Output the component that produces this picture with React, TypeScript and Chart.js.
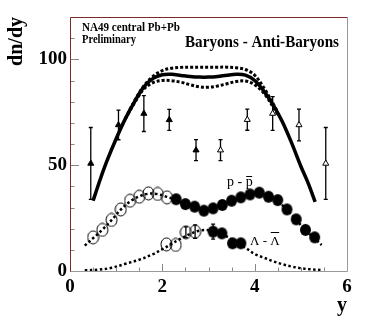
import React, { useEffect, useRef } from "react";
import { Chart, registerables } from "chart.js";

Chart.register(...registerables);

// ---------- data ----------
const xTickLabels = ["0", "2", "4", "6"];
const yTickLabels = ["0", "50", "100"];
const xMajorTicks = [0, 2, 4, 6];
const xMinorTicks = [0.5, 1, 1.5, 2.5, 3, 3.5, 4.5, 5, 5.5];
const yMajorTicks = [0, 50, 100];
const yMinorTicks = [10, 20, 30, 40, 60, 70, 80, 90, 110];

// Baryons - Anti-Baryons : measured (triangles)
const triFilledX = [0.45, 1.05, 1.6, 2.15, 2.73];
const triFilledY = [50.8, 69.0, 74.4, 71.4, 57.1];
const triFilledErr = [17, 7, 8.5, 5, 5];
const triOpenX = [3.26, 3.84, 4.39, 4.96, 5.54];
const triOpenY = [57.1, 71.5, 74.4, 69.0, 50.8];
const triOpenErr = [5, 5, 8, 7.5, 17];

// model curves
const bbX = [0.5, 0.65, 0.8, 1.0, 1.2, 1.4, 1.6, 1.8, 2.0, 2.2, 2.4, 2.6, 2.8, 3.0, 3.2, 3.4, 3.6, 3.8, 4.0, 4.2, 4.4, 4.6, 4.8, 5.0, 5.15, 5.31];
const bbY = [33.2, 43, 52, 62.5, 72, 80, 87, 91, 92.7, 92.9, 92.4, 91.9, 91.6, 91.6, 91.9, 92.5, 92.9, 92.5, 90, 85, 78.5, 70.5, 60.5, 49.5, 42, 32.7];
const bbBandX = [1.2, 1.4, 1.6, 1.8, 2.0, 2.2, 2.4, 2.6, 2.8, 3.0, 3.2, 3.4, 3.6, 3.8, 4.0, 4.2, 4.4, 4.5];
const bbUpperY = [72, 80.5, 87.5, 92, 94.7, 95.8, 96.2, 96.3, 96.3, 96.3, 96.3, 96.3, 96.0, 95.2, 92.5, 86.5, 79, 75];
const bbLowerY = [72, 79.5, 86, 89, 90, 89.9, 89.2, 88, 87, 86.8, 87.4, 88.5, 89.5, 89.8, 88, 84, 77.5, 74];

// p - pbar
const ppOpenX = [0.5, 0.7, 0.9, 1.1, 1.3, 1.5, 1.7, 1.9, 2.1];
const ppOpenY = [15.9, 19.4, 24.1, 29.1, 33.2, 35.1, 36.7, 36.4, 34.8];
const ppFilledX = [2.3, 2.5, 2.7, 2.9, 3.1, 3.3, 3.5, 3.7, 3.9, 4.1, 4.3, 4.5, 4.7, 4.9, 5.1, 5.3];
const ppFilledY = [33.9, 31.6, 30.4, 28.5, 29.6, 31.2, 33.2, 34.8, 36.2, 37.0, 35.1, 33.5, 29.1, 24.4, 19.4, 15.9];
const ppFitX = [0.32, 0.5, 0.7, 0.9, 1.1, 1.3, 1.5, 1.7, 1.9, 2.1, 2.3, 2.5, 2.7, 2.9, 3.1, 3.3, 3.5, 3.7, 3.9, 4.1, 4.3, 4.5, 4.7, 4.9, 5.1, 5.3, 5.45];
const ppFitY = [12, 15.5, 19.5, 24, 29, 32.8, 35.3, 36.5, 36.3, 35, 33.5, 31.5, 30, 29.2, 29.8, 31.2, 33, 34.9, 36.3, 36.6, 35.3, 32.8, 29, 24.2, 19.3, 15.3, 12.3];

// Lambda - Lambdabar
const lamOpenX = [2.09, 2.29, 2.51, 2.71];
const lamOpenY = [12.6, 12.3, 18.3, 18.6];
const lamOpenErr = [0, 0, 2.5, 3.2];
const lamFilledX = [3.1, 3.29, 3.52, 3.7];
const lamFilledY = [18.6, 17.8, 13.1, 13.1];
const lamFilledErr = [3.5, 0, 0, 0];
const lamFitX = [0.32, 0.6, 0.9, 1.2, 1.5, 1.8, 2.0, 2.2, 2.4, 2.6, 2.8, 3.0, 3.2, 3.4, 3.6, 3.8, 4.0, 4.2, 4.4, 4.6, 4.8, 5.0, 5.2, 5.48];
const lamFitY = [0.3, 0.6, 1.5, 3.4, 5.3, 8.0, 10.3, 12.8, 15.3, 17.5, 19.0, 19.3, 18.3, 16.2, 13.5, 11.0, 8.0, 6.3, 4.6, 3.2, 2.1, 1.3, 0.8, 0.4];

// texts
const yTitle = "dn/dy";
const xTitle = "y";
const expText = "NA49 central Pb+Pb";
const prelimText = "Preliminary";
const headText = "Baryons - Anti-Baryons";
const ppLabelHead = "p - ";
const ppLabelBar = "p"; // drawn with an overbar (anti-proton)
const lamLabelHead = "\u039B - ";
const lamLabelBar = "\u039B"; // drawn with an overbar (anti-lambda)

const SERIF = "'Liberation Serif', 'Times New Roman', serif";

const pts = (xs: number[], ys: number[]) => xs.map((x, i) => ({ x, y: ys[i] }));

function makeEllipse(w: number, h: number, filled: boolean) {
  const c = document.createElement("canvas");
  c.width = w + 2;
  c.height = h + 2;
  const g = c.getContext("2d")!;
  g.beginPath();
  g.ellipse(c.width / 2, c.height / 2, w / 2, h / 2, 0, 0, Math.PI * 2);
  if (filled) {
    g.fillStyle = "#000";
    g.fill();
  } else {
    g.strokeStyle = "#000";
    g.lineWidth = 1;
    g.stroke();
  }
  return c;
}

const errorSets = [
  { xs: triFilledX, ys: triFilledY, es: triFilledErr },
  { xs: triOpenX, ys: triOpenY, es: triOpenErr },
  { xs: lamOpenX, ys: lamOpenY, es: lamOpenErr },
  { xs: lamFilledX, ys: lamFilledY, es: lamFilledErr },
];

const errorBarPlugin = {
  id: "errorBars",
  beforeDatasetsDraw(chart: any) {
    const { ctx, scales } = chart;
    const sx = scales.x;
    const sy = scales.y;
    ctx.save();
    ctx.strokeStyle = "#000";
    ctx.lineWidth = 1.3;
    for (const s of errorSets) {
      s.xs.forEach((x, i) => {
        const e = s.es[i];
        if (!e) return;
        const px = sx.getPixelForValue(x);
        const top = sy.getPixelForValue(s.ys[i] + e);
        const bot = sy.getPixelForValue(s.ys[i] - e);
        ctx.beginPath();
        ctx.moveTo(px, top);
        ctx.lineTo(px, bot);
        ctx.moveTo(px - 2, top);
        ctx.lineTo(px + 2, top);
        ctx.moveTo(px - 2, bot);
        ctx.lineTo(px + 2, bot);
        ctx.stroke();
      });
    }
    ctx.restore();
  },
};

function barLabel(ctx: CanvasRenderingContext2D, head: string, barred: string, x: number, y: number, barY: number) {
  ctx.fillText(head + barred, x, y);
  const w0 = ctx.measureText(head).width;
  const w1 = ctx.measureText(head + barred).width;
  ctx.beginPath();
  ctx.lineWidth = 1;
  ctx.strokeStyle = "#000";
  ctx.moveTo(x + w0 + 0.5, barY + 0.5);
  ctx.lineTo(x + w1 - 0.5, barY + 0.5);
  ctx.stroke();
}

const framePlugin = {
  id: "frame",
  afterDatasetsDraw(chart: any) {
    const { ctx, chartArea: a, scales } = chart;
    const sx = scales.x;
    const sy = scales.y;
    ctx.save();
    ctx.lineWidth = 1;
    // ticks
    ctx.strokeStyle = "#888";
    ctx.beginPath();
    for (const v of xMajorTicks) {
      const p = Math.round(sx.getPixelForValue(v)) + 0.5;
      ctx.moveTo(p, a.bottom);
      ctx.lineTo(p, a.bottom - 7);
    }
    for (const v of xMinorTicks) {
      const p = Math.round(sx.getPixelForValue(v)) + 0.5;
      ctx.moveTo(p, a.bottom);
      ctx.lineTo(p, a.bottom - 3.5);
    }
    for (const v of yMajorTicks) {
      const p = Math.round(sy.getPixelForValue(v)) + 0.5;
      ctx.moveTo(a.left, p);
      ctx.lineTo(a.left + 9, p);
    }
    for (const v of yMinorTicks) {
      const p = Math.round(sy.getPixelForValue(v)) + 0.5;
      ctx.moveTo(a.left, p);
      ctx.lineTo(a.left + 4.5, p);
    }
    ctx.stroke();
    // frame
    const L = Math.round(a.left) + 0.5;
    const R = Math.round(a.right) + 0.5;
    const T = Math.round(a.top) + 0.5;
    const B = Math.round(a.bottom) + 0.5;
    ctx.strokeStyle = "#999";
    ctx.beginPath();
    ctx.moveTo(R, T);
    ctx.lineTo(R, B);
    ctx.lineTo(L, B);
    ctx.stroke();
    ctx.strokeStyle = "#7a2a2a";
    ctx.beginPath();
    ctx.moveTo(L, B);
    ctx.lineTo(L, T);
    ctx.lineTo(R, T);
    ctx.stroke();

    // annotations
    ctx.fillStyle = "#000";
    ctx.textAlign = "left";
    ctx.textBaseline = "middle";
    ctx.font = `bold 13px ${SERIF}`;
    ctx.fillText(expText, 82, 28, 98);
    ctx.fillText(prelimText, 82, 40, 54);
    ctx.font = `bold 17px ${SERIF}`;
    ctx.fillText(headText, 185, 43, 154);
    ctx.textBaseline = "alphabetic";
    ctx.font = `14px ${SERIF}`;
    barLabel(ctx, ppLabelHead, ppLabelBar, 227, 185.5, 176);
    ctx.font = `13px ${SERIF}`;
    barLabel(ctx, lamLabelHead, lamLabelBar, 250, 244.5, 232);
    ctx.restore();
  },
};

export default function App() {
  const ref = useRef<HTMLCanvasElement | null>(null);
  useEffect(() => {
    if (!ref.current) return;
    const openEll = makeEllipse(11, 13, false);
    const fillEll = makeEllipse(11, 12, true);
    const markerBase = { showLine: false, order: 0 };
    const lineBase = { showLine: true, pointRadius: 0, fill: false, order: 1, tension: 0.35 };
    const chart = new Chart(ref.current, {
      type: "scatter",
      data: {
        datasets: [
          { ...markerBase, label: "tri filled", data: pts(triFilledX, triFilledY), pointStyle: "triangle", pointRadius: 3.5, backgroundColor: "#000", borderColor: "#000", borderWidth: 1 },
          { ...markerBase, label: "tri open", data: pts(triOpenX, triOpenY), pointStyle: "triangle", pointRadius: 3.5, backgroundColor: "#fff", borderColor: "#000", borderWidth: 1 },
          { ...markerBase, label: "p open", data: pts(ppOpenX, ppOpenY), pointStyle: openEll, pointRadius: 6 },
          { ...markerBase, label: "p filled", data: pts(ppFilledX, ppFilledY), pointStyle: fillEll, pointRadius: 6 },
          { ...markerBase, label: "lam open", data: pts(lamOpenX, lamOpenY), pointStyle: openEll, pointRadius: 6 },
          { ...markerBase, label: "lam filled", data: pts(lamFilledX, lamFilledY), pointStyle: fillEll, pointRadius: 6 },
          { ...lineBase, label: "bb", data: pts(bbX, bbY), borderColor: "#000", borderWidth: 3.5 },
          { ...lineBase, label: "bb up", data: pts(bbBandX, bbUpperY), borderColor: "#000", borderWidth: 3, borderDash: [3, 2] },
          { ...lineBase, label: "bb low", data: pts(bbBandX, bbLowerY), borderColor: "#000", borderWidth: 3, borderDash: [3, 2] },
          { ...lineBase, label: "pp fit", data: pts(ppFitX, ppFitY), borderColor: "#000", borderWidth: 2.5, borderDash: [2.5, 2.5] },
          { ...lineBase, label: "lam fit", data: pts(lamFitX, lamFitY), borderColor: "#000", borderWidth: 2.5, borderDash: [2.5, 2.5] },
        ] as any,
      },
      options: {
        animation: false,
        responsive: false,
        maintainAspectRatio: false,
        layout: { padding: { top: 17, right: 35, left: 0, bottom: 0 } },
        plugins: { legend: { display: false }, tooltip: { enabled: false } },
        scales: {
          x: {
            type: "linear",
            min: 0,
            max: 6,
            afterFit: (s: any) => { s.height = 56; },
            grid: { display: false, drawTicks: false },
            border: { display: false },
            ticks: {
              stepSize: 2,
              includeBounds: false,
              padding: 5,
              maxRotation: 0,
              autoSkip: false,
              color: "#000",
              font: { family: SERIF, size: 19, weight: "bold" },
              callback: (v: any) => xTickLabels[xMajorTicks.indexOf(Number(v))] ?? "",
            },
            title: { display: true, text: xTitle, align: "end", color: "#000", font: { family: SERIF, size: 20, weight: "bold" }, padding: { top: 0, bottom: 9 } },
          },
          y: {
            type: "linear",
            min: 0,
            max: 120,
            afterFit: (s: any) => { s.width = 70; },
            grid: { display: false, drawTicks: false },
            border: { display: false },
            ticks: {
              stepSize: 50,
              includeBounds: false,
              padding: 3,
              color: "#000",
              font: { family: SERIF, size: 19, weight: "bold" },
              callback: (v: any) => yTickLabels[yMajorTicks.indexOf(Number(v))] ?? "",
            },
            title: { display: true, text: yTitle, align: "end", color: "#000", font: { family: SERIF, size: 20, weight: "bold" }, padding: { top: 5, bottom: 0 } },
          },
        },
      } as any,
      plugins: [errorBarPlugin, framePlugin],
    });
    return () => chart.destroy();
  }, []);
  return (
    <div style={{ position: "absolute", left: 0, top: 0, width: 382, height: 327, background: "#fff" }}>
      <canvas ref={ref} width={382} height={327} style={{ width: 382, height: 327, display: "block" }} />
    </div>
  );
}
